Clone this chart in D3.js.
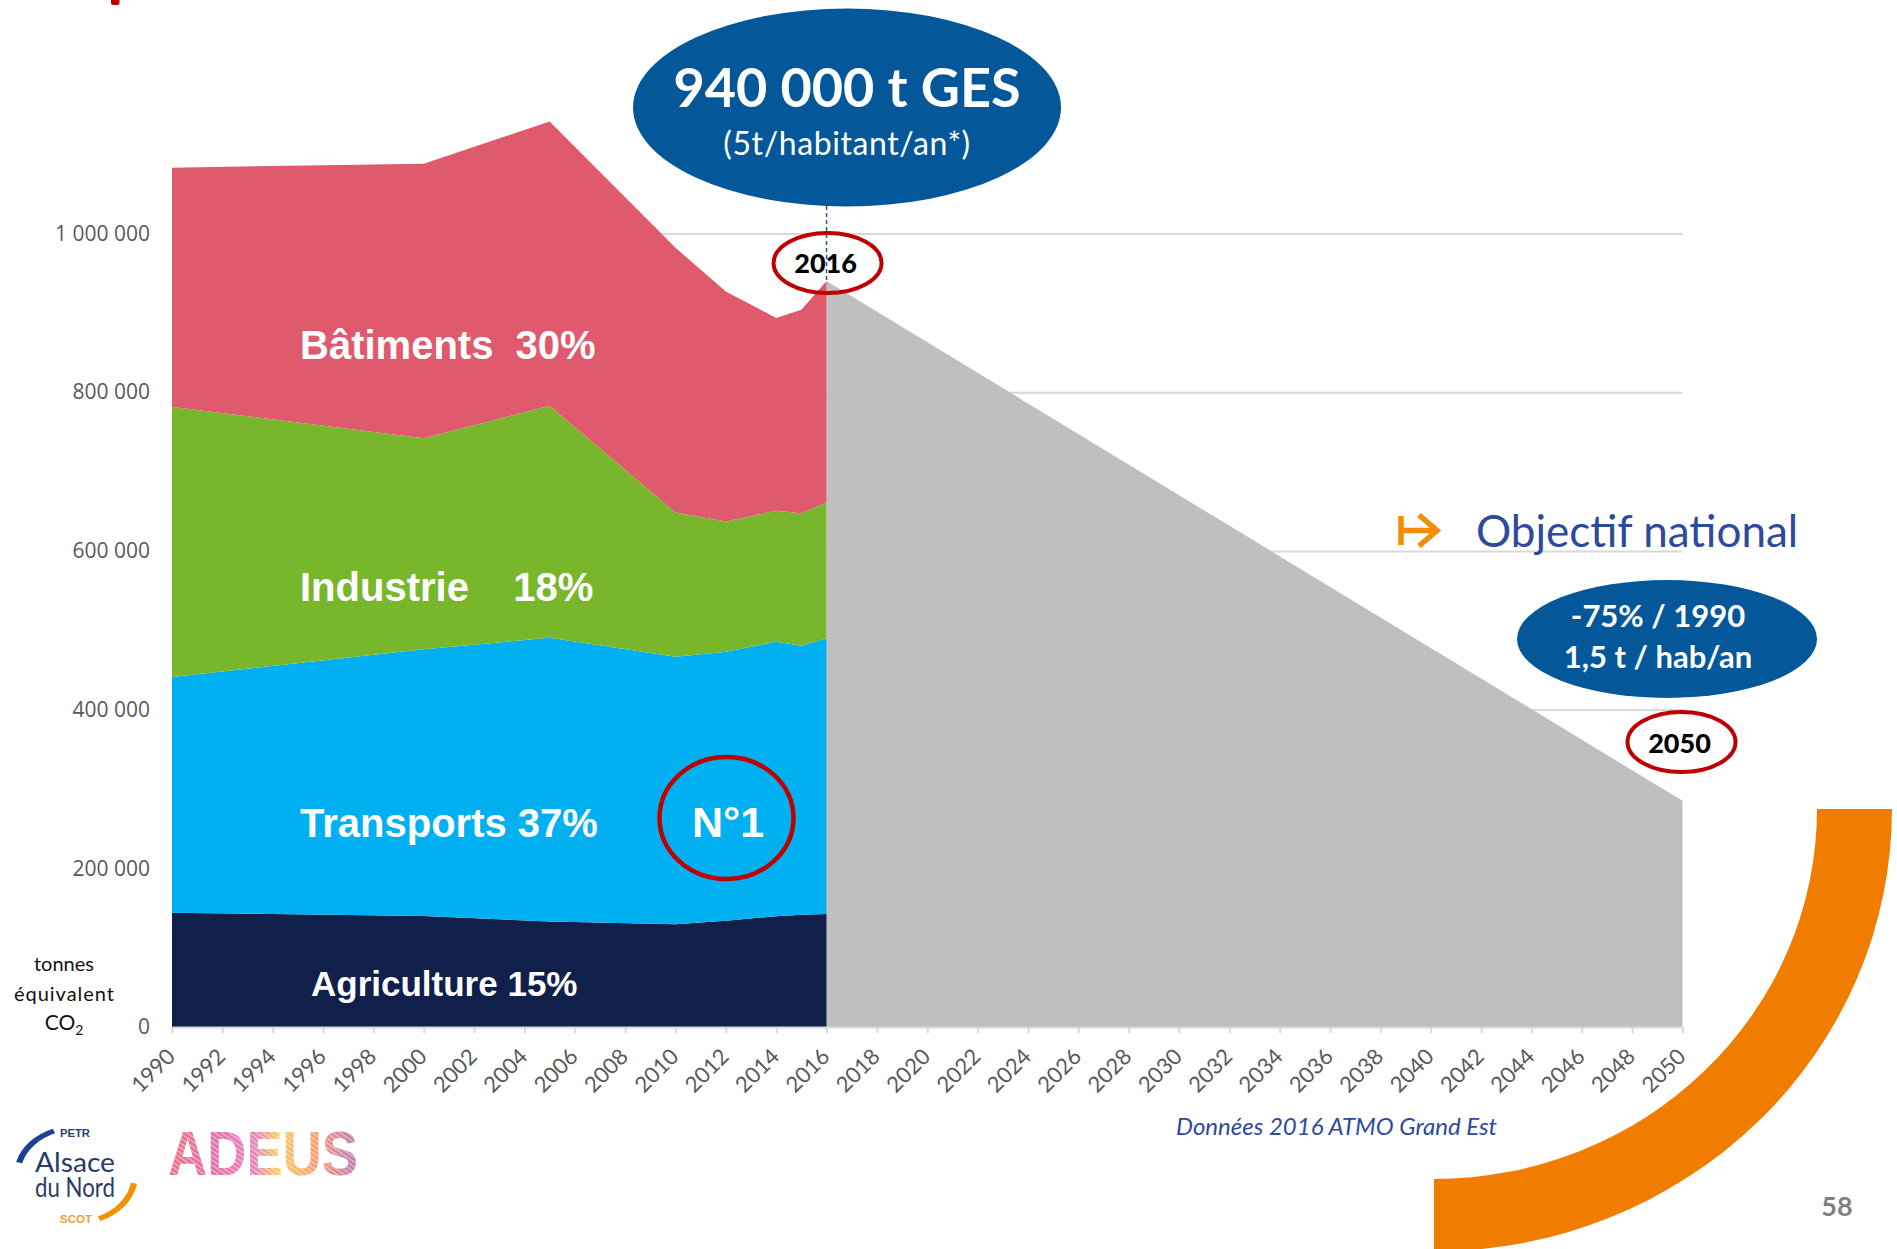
<!DOCTYPE html>
<html>
<head>
<meta charset="utf-8">
<script src="https://cdn.jsdelivr.net/npm/d3@7"></script>
<style>
  html, body { margin: 0; padding: 0; background: #ffffff; }
  svg { display: block; }
  text { white-space: pre; }
</style>
</head>
<body>
<svg id="chart" width="1897" height="1249"></svg>
<script>
// Greenhouse-gas emissions by sector, t CO2 equivalent
const years       = [1990, 2000, 2005, 2010, 2012, 2014, 2015, 2016];
const agriculture = [144000, 140000, 133000, 129500, 134000, 139500, 141500, 142500];
const transports  = [297000, 336000, 357500, 337000, 339000, 346000, 339000, 347500];
const industrie   = [340500, 266000, 292500, 182000, 164000, 165000, 167000, 171000];
const batiments   = [301500, 346000, 358000, 333500, 290000, 243000, 256500, 279000];

const sectorKeys   = ["agriculture", "transports", "industrie", "batiments"];
const sectorLabels = ["Agriculture 15%", "Transports 37%", "Industrie    18%", "Bâtiments  30%"];
const sectorColors = ["#10204A", "#00B0F0", "#78B72C", "#DF5A6D"];

// National objective trajectory (total emissions)
const objectiveYears = [2016, 2050];
const objectiveTotal = [940000, 285000];

// Axis ticks
const yTickValues = [0, 200000, 400000, 600000, 800000, 1000000];
const xTickValues = d3.range(1990, 2051, 2);

// ---------------------------------------------------------------
const svg = d3.select("#chart");
const W = 1897, H = 1249;
svg.append("rect").attr("width", W).attr("height", H).attr("fill", "#ffffff");

const x = d3.scaleLinear().domain([1990, 2050]).range([172, 1682.5]);
const y = d3.scaleLinear().domain([0, 1000000]).range([1027, 233.5]);

const fr = d3.formatLocale({ decimal: ",", thousands: " ", grouping: [3], currency: ["", " €"] });
const fmtT = fr.format(",");

// Horizontal gridlines
const grid = svg.append("g").attr("transform", `translate(${x(1990)},0)`)
  .call(d3.axisLeft(y).tickValues(yTickValues.filter(v => v > 0))
        .tickSize(-(x(2050) - x(1990))).tickFormat(""));
grid.select(".domain").remove();
grid.selectAll("line").attr("stroke", "#D9D9D9").attr("stroke-width", 2);

// Objective trajectory (grey)
const objArea = d3.area()
  .x((d, i) => x(objectiveYears[i]))
  .y0(y(0))
  .y1(d => y(d));
svg.append("path").datum(objectiveTotal)
  .attr("d", objArea).attr("fill", "#BFBFBF");

// Stacked sector areas
const rows = years.map((yr, i) => ({
  year: yr,
  agriculture: agriculture[i],
  transports: transports[i],
  industrie: industrie[i],
  batiments: batiments[i]
}));
const stacked = d3.stack().keys(sectorKeys)(rows);
const area = d3.area()
  .x(d => x(d.data.year))
  .y0(d => y(d[0]))
  .y1(d => y(d[1]));
svg.append("g").selectAll("path").data(stacked).join("path")
  .attr("d", area)
  .attr("fill", (d, i) => sectorColors[i]);

// X axis
const xAxis = svg.append("g").attr("transform", `translate(0,${y(0)})`)
  .call(d3.axisBottom(x).tickValues(xTickValues).tickSize(6).tickSizeOuter(0)
        .tickFormat(d3.format("d")));
xAxis.select(".domain").attr("stroke", "#D9D9D9").attr("stroke-width", 2);
xAxis.selectAll(".tick line").attr("stroke", "#D9D9D9").attr("stroke-width", 2);
xAxis.selectAll(".tick text")
  .attr("x", 0).attr("y", 0).attr("dy", 0)
  .attr("transform", "translate(4,31) rotate(-45)")
  .attr("text-anchor", "end")
  .attr("fill", "#595959")
  .style("font-family", "Lato, 'Open Sans', sans-serif")
  .style("font-size", "22px");

// Y axis labels
const yAxis = svg.append("g").attr("transform", `translate(${x(1990)},0)`)
  .call(d3.axisLeft(y).tickValues(yTickValues).tickSize(0).tickPadding(22).tickFormat(fmtT));
yAxis.select(".domain").remove();
yAxis.selectAll("text")
  .attr("fill", "#595959")
  .style("font-family", "'Open Sans', sans-serif")
  .style("font-size", "21px");

// Unit label
const unitLines = [["tonnes", 971], ["équivalent", 1001]];
unitLines.forEach(([t, by]) => {
  svg.append("text").attr("x", 64).attr("y", by).attr("text-anchor", "middle")
    .style("font-family", "Lato, sans-serif").style("font-size", "20px").attr("fill", "#111111")
    .attr("textLength", t.length > 6 ? 100 : null)
    .text(t);
});
const co2 = svg.append("text").attr("x", 64).attr("y", 1030).attr("text-anchor", "middle")
  .style("font-family", "Lato, sans-serif").style("font-size", "21px").attr("fill", "#111111");
co2.append("tspan").text("CO");
co2.append("tspan").attr("dy", 5).style("font-size", "14px").text("2");

// Sector labels inside the areas
const labelPos = [
  { x: 311, y: 996, size: 35 },
  { x: 300, y: 837, size: 40 },
  { x: 300, y: 601, size: 40 },
  { x: 300, y: 359, size: 40 }
];
svg.append("g").selectAll("text").data(sectorLabels).join("text")
  .attr("x", (d, i) => labelPos[i].x)
  .attr("y", (d, i) => labelPos[i].y)
  .attr("fill", "#ffffff")
  .style("font-family", "'Liberation Sans', Arial, sans-serif")
  .style("font-weight", "bold")
  .style("font-size", (d, i) => labelPos[i].size + "px")
  .text(d => d);

// "N°1" ring on transports
svg.append("ellipse").attr("cx", 726.5).attr("cy", 818).attr("rx", 67).attr("ry", 61)
  .attr("fill", "none").attr("stroke", "#C00000").attr("stroke-width", 4.5);
svg.append("text").attr("x", 728).attr("y", 836.5).attr("text-anchor", "middle")
  .attr("fill", "#ffffff")
  .style("font-family", "'Liberation Sans', Arial, sans-serif")
  .style("font-weight", "bold").style("font-size", "43px")
  .text("N°1");

// 2016 total call-out
const total2016 = objectiveTotal[0];
svg.append("line")
  .attr("x1", x(2016)).attr("x2", x(2016))
  .attr("y1", 206).attr("y2", y(total2016))
  .attr("stroke", "#2F5597").attr("stroke-width", 1.5).attr("stroke-dasharray", "4,3");
svg.append("ellipse").attr("cx", 847).attr("cy", 107.5).attr("rx", 214).attr("ry", 99)
  .attr("fill", "#04589A");
svg.append("text").attr("x", 847).attr("y", 107).attr("text-anchor", "middle")
  .attr("fill", "#ffffff")
  .style("font-family", "Lato, sans-serif").style("font-weight", "bold").style("font-size", "54px")
  .text(fmtT(total2016) + " t GES");
svg.append("text").attr("x", 847).attr("y", 155).attr("text-anchor", "middle")
  .attr("fill", "#ffffff")
  .style("font-family", "Lato, sans-serif").style("font-size", "32px").style("letter-spacing", "0.6px")
  .text("(5t/habitant/an*)");

// Year rings
function yearRing(cx, cy, label, baseline) {
  svg.append("ellipse").attr("cx", cx).attr("cy", cy).attr("rx", 54).attr("ry", 30)
    .attr("fill", "none").attr("stroke", "#C00000").attr("stroke-width", 4);
  svg.append("text").attr("x", cx - 2).attr("y", baseline).attr("text-anchor", "middle")
    .attr("fill", "#000000")
    .style("font-family", "Lato, sans-serif").style("font-weight", 900).style("font-size", "27px")
    .text(label);
}
yearRing(x(2016) + 1, 263, "2016", 273);
yearRing(x(2050) - 1, 742, "2050", 753);

// National objective
svg.append("path")
  .attr("d", "M1401,516 L1401,545 M1401,530.5 L1437,530.5 M1419,515 L1437,530.5 L1419,546")
  .attr("fill", "none").attr("stroke", "#F28C00").attr("stroke-width", 5.5)
  .attr("stroke-linejoin", "miter");
svg.append("text").attr("x", 1476).attr("y", 547)
  .attr("fill", "#2E4A9C")
  .style("font-family", "Lato, sans-serif").style("font-size", "44px")
  .text("Objectif national");
svg.append("ellipse").attr("cx", 1667).attr("cy", 639).attr("rx", 150).attr("ry", 59)
  .attr("fill", "#04589A");
svg.append("text").attr("x", 1658).attr("y", 627).attr("text-anchor", "middle")
  .attr("fill", "#ffffff")
  .style("font-family", "Lato, sans-serif").style("font-weight", "bold").style("font-size", "31px")
  .text("-75% / 1990");
svg.append("text").attr("x", 1658).attr("y", 668).attr("text-anchor", "middle")
  .attr("fill", "#ffffff")
  .style("font-family", "Lato, sans-serif").style("font-weight", "bold").style("font-size", "31px")
  .text("1,5 t / hab/an");

// Source
svg.append("text").attr("x", 1176).attr("y", 1135)
  .attr("fill", "#2E4A9C")
  .style("font-family", "Lato, sans-serif").style("font-style", "italic").style("font-size", "24px")
  .text("Données 2016 ATMO Grand Est");

// Decorative orange quarter ring
svg.append("path")
  .attr("d", d3.arc().innerRadius(383).outerRadius(458).startAngle(Math.PI / 2).endAngle(Math.PI)())
  .attr("transform", "translate(1434,809) scale(1,0.966)")
  .attr("fill", "#F07D00");

// Page number
svg.append("text").attr("x", 1837).attr("y", 1216).attr("text-anchor", "middle")
  .attr("fill", "#7F7F7F")
  .style("font-family", "Lato, sans-serif").style("font-weight", "bold").style("font-size", "27px")
  .text("58");

// Title remnant at the top edge
svg.append("rect").attr("x", 111).attr("y", -4).attr("width", 8.5).attr("height", 9).attr("rx", 2)
  .attr("fill", "#C00000");

// Logo: PETR Alsace du Nord
const logo = svg.append("g");
const logoArc = d3.arc().innerRadius(45).outerRadius(50);
const deg = Math.PI / 180;
logo.append("path")
  .attr("d", logoArc.startAngle(-75 * deg).endAngle(-22 * deg)())
  .attr("transform", "translate(76,1175) scale(1.24,1)").attr("fill", "#1F3F8F");
logo.append("path")
  .attr("d", logoArc.startAngle(100 * deg).endAngle(157 * deg)())
  .attr("transform", "translate(76,1175) scale(1.24,1)").attr("fill", "#F39200");
logo.append("text").attr("x", 60).attr("y", 1137).attr("textLength", 30).attr("lengthAdjust", "spacingAndGlyphs")
  .attr("fill", "#2B3F73").style("font-family", "'Liberation Sans', sans-serif")
  .style("font-weight", "bold").style("font-size", "11px").text("PETR");
logo.append("text").attr("x", 35).attr("y", 1172).attr("textLength", 80).attr("lengthAdjust", "spacingAndGlyphs")
  .attr("fill", "#2B3A67").style("font-family", "Lato, sans-serif")
  .style("font-size", "27px").text("Alsace");
logo.append("text").attr("x", 35).attr("y", 1197).attr("textLength", 80).attr("lengthAdjust", "spacingAndGlyphs")
  .attr("fill", "#2B3A67").style("font-family", "Lato, sans-serif")
  .style("font-size", "27px").text("du Nord");
logo.append("text").attr("x", 60).attr("y", 1223).attr("textLength", 32).attr("lengthAdjust", "spacingAndGlyphs")
  .attr("fill", "#E8A33A").style("font-family", "'Liberation Sans', sans-serif")
  .style("font-weight", "bold").style("font-size", "11px").text("SCOT");

// Logo: ADEUS
const defs = svg.append("defs");
const grad = defs.append("linearGradient").attr("id", "adeusGrad")
  .attr("x1", "0%").attr("x2", "100%").attr("y1", "0%").attr("y2", "0%");
[["0%", "#E85A66"], ["22%", "#E0509A"], ["45%", "#E06AB0"], ["58%", "#F5C445"],
 ["78%", "#F58A55"], ["100%", "#A862A8"]].forEach(([o, c]) =>
  grad.append("stop").attr("offset", o).attr("stop-color", c));
const pat = defs.append("pattern").attr("id", "adeusLines")
  .attr("width", 4).attr("height", 4).attr("patternUnits", "userSpaceOnUse")
  .attr("patternTransform", "rotate(35)");
pat.append("rect").attr("width", 4).attr("height", 1.4).attr("fill", "#ffffff");
[["url(#adeusGrad)", 0.85], ["url(#adeusLines)", 0.5]].forEach(([fill, op]) => {
  svg.append("text").attr("x", 168).attr("y", 1175).attr("textLength", 190).attr("lengthAdjust", "spacingAndGlyphs")
    .attr("fill", fill).attr("opacity", op)
    .style("font-family", "'Liberation Sans', sans-serif").style("font-weight", "bold").style("font-size", "63px")
    .text("ADEUS");
});
</script>
</body>
</html>
